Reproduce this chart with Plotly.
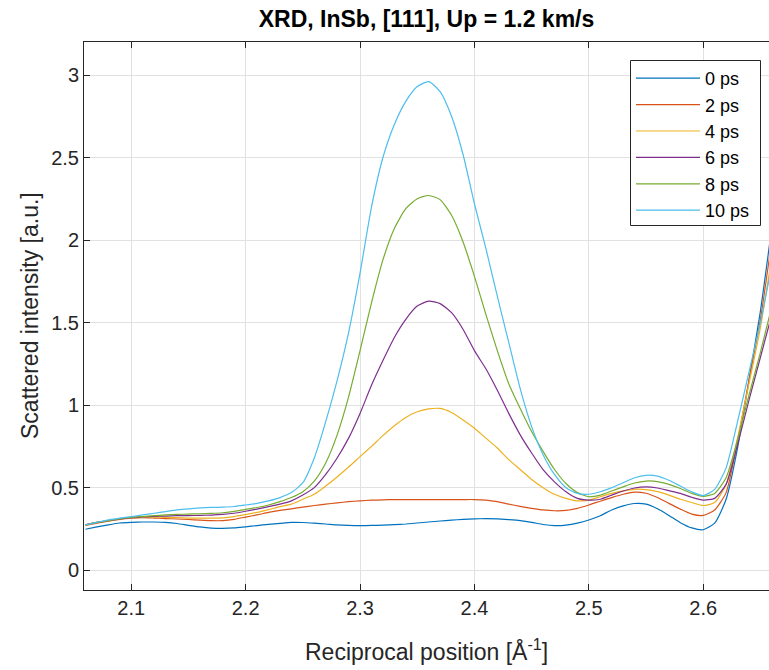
import plotly.graph_objects as go

q = [2.06, 2.07, 2.08, 2.09, 2.10, 2.11, 2.12, 2.13, 2.14, 2.15,
     2.16, 2.17, 2.18, 2.19, 2.20, 2.21, 2.22, 2.23, 2.24, 2.25,
     2.26, 2.27, 2.28, 2.29, 2.30, 2.31, 2.32, 2.33, 2.34, 2.35,
     2.36, 2.37, 2.38, 2.39, 2.40, 2.41, 2.42, 2.43, 2.44, 2.45,
     2.46, 2.47, 2.48, 2.49, 2.50, 2.51, 2.52, 2.53, 2.54, 2.55,
     2.56, 2.57, 2.58, 2.59, 2.60, 2.61, 2.62, 2.63, 2.64, 2.65, 2.66]

i0 = [0.248, 0.262, 0.275, 0.286, 0.290, 0.292, 0.292, 0.290, 0.283, 0.272,
      0.262, 0.255, 0.253, 0.256, 0.263, 0.270, 0.278, 0.284, 0.290, 0.289,
      0.285, 0.280, 0.274, 0.271, 0.270, 0.271, 0.273, 0.276, 0.280, 0.286,
      0.292, 0.298, 0.303, 0.308, 0.311, 0.312, 0.311, 0.306, 0.300, 0.290,
      0.277, 0.270, 0.273, 0.285, 0.304, 0.330, 0.365, 0.390, 0.404, 0.400,
      0.372, 0.332, 0.288, 0.256, 0.245, 0.285, 0.430, 0.740, 1.150, 1.570, 2.080]

i2 = [0.272, 0.285, 0.297, 0.308, 0.315, 0.318, 0.316, 0.313, 0.310, 0.307,
      0.303, 0.300, 0.300, 0.308, 0.322, 0.335, 0.350, 0.362, 0.372, 0.382,
      0.392, 0.400, 0.408, 0.415, 0.420, 0.424, 0.426, 0.428, 0.428, 0.428,
      0.428, 0.428, 0.428, 0.428, 0.428, 0.424, 0.415, 0.400, 0.387, 0.375,
      0.365, 0.360, 0.362, 0.375, 0.395, 0.418, 0.440, 0.460, 0.473, 0.466,
      0.440, 0.405, 0.370, 0.340, 0.332, 0.365, 0.470, 0.780, 1.150, 1.520, 2.000]

i4 = [0.275, 0.290, 0.300, 0.310, 0.318, 0.322, 0.322, 0.320, 0.318, 0.316,
      0.315, 0.315, 0.317, 0.325, 0.337, 0.350, 0.367, 0.385, 0.400, 0.430,
      0.460, 0.510, 0.565, 0.625, 0.688, 0.750, 0.815, 0.875, 0.925, 0.960,
      0.977, 0.980, 0.955, 0.910, 0.860, 0.800, 0.740, 0.670, 0.610, 0.550,
      0.500, 0.460, 0.435, 0.420, 0.425, 0.445, 0.465, 0.480, 0.490, 0.488,
      0.476, 0.455, 0.430, 0.410, 0.392, 0.410, 0.520, 0.800, 1.130, 1.470, 1.900]

i6 = [0.275, 0.290, 0.300, 0.310, 0.318, 0.323, 0.326, 0.328, 0.330, 0.331,
      0.332, 0.334, 0.338, 0.345, 0.357, 0.370, 0.385, 0.400, 0.420, 0.455,
      0.500, 0.580, 0.680, 0.800, 0.950, 1.120, 1.270, 1.410, 1.520, 1.600,
      1.630, 1.615, 1.560, 1.460, 1.330, 1.220, 1.090, 0.950, 0.820, 0.710,
      0.610, 0.535, 0.475, 0.435, 0.425, 0.430, 0.455, 0.480, 0.498, 0.505,
      0.498, 0.482, 0.465, 0.442, 0.425, 0.435, 0.520, 0.760, 1.030, 1.290, 1.550]

i8 = [0.275, 0.290, 0.300, 0.312, 0.320, 0.325, 0.330, 0.335, 0.338, 0.340,
      0.342, 0.344, 0.348, 0.356, 0.368, 0.380, 0.395, 0.415, 0.440, 0.475,
      0.540, 0.650, 0.820, 1.050, 1.330, 1.620, 1.880, 2.070, 2.190, 2.250,
      2.270, 2.245, 2.150, 1.990, 1.780, 1.550, 1.330, 1.130, 0.980, 0.840,
      0.720, 0.610, 0.525, 0.470, 0.445, 0.455, 0.480, 0.505, 0.528, 0.540,
      0.537, 0.520, 0.495, 0.465, 0.447, 0.465, 0.560, 0.790, 1.060, 1.320, 1.600]

i10 = [0.275, 0.290, 0.305, 0.315, 0.325, 0.335, 0.345, 0.355, 0.365, 0.372,
       0.377, 0.380, 0.382, 0.386, 0.395, 0.405, 0.420, 0.440, 0.470, 0.530,
       0.680, 0.900, 1.150, 1.440, 1.800, 2.200, 2.500, 2.700, 2.840, 2.930,
       2.960, 2.900, 2.750, 2.520, 2.220, 1.950, 1.660, 1.380, 1.100, 0.870,
       0.700, 0.580, 0.500, 0.465, 0.460, 0.475, 0.500, 0.530, 0.560, 0.575,
       0.570, 0.545, 0.510, 0.475, 0.452, 0.490, 0.620, 0.900, 1.200, 1.500, 1.850]

series_names = ["0 ps", "2 ps", "4 ps", "6 ps", "8 ps", "10 ps"]
series_values = [i0, i2, i4, i6, i8, i10]
colors = ["#0072BD", "#D95319", "#EDB120", "#7E2F8E", "#77AC30", "#4DBEEE"]

x_ticks = [2.1, 2.2, 2.3, 2.4, 2.5, 2.6]
y_ticks = [0, 0.5, 1, 1.5, 2, 2.5, 3]

FONT = "Liberation Sans, Arial, Helvetica, sans-serif"
AX = "#262626"

W, H = 769, 670
L, T, B = 84, 42, 80
PW, PH = W - L, H - T - B  # plot area size in px


def px_x(page_x):
    return (page_x - L) / PW


def px_y(page_y):
    return (H - B - page_y) / PH


fig = go.Figure()
for name, vals, col in zip(series_names, series_values, colors):
    fig.add_trace(go.Scatter(
        x=q, y=vals, mode="lines", name=name,
        line=dict(color=col, width=1.2, shape="spline", smoothing=0.6),
    ))

fig.update_layout(
    width=W, height=H,
    margin=dict(l=L, r=0, t=T, b=B),
    paper_bgcolor="white", plot_bgcolor="white",
    font=dict(family=FONT, color=AX, size=20),
    title=dict(text="<b>XRD, InSb, [111], Up = 1.2 km/s</b>",
               x=0.5, xref="paper", xanchor="center",
               y=1 - 19 / H, yref="container", yanchor="middle",
               font=dict(size=23, color="#000000", family=FONT)),
    showlegend=True,
    legend=dict(x=px_x(631), y=px_y(60), xanchor="left", yanchor="top",
                bgcolor="rgba(0,0,0,0)", borderwidth=0,
                font=dict(size=18, color="#000000", family=FONT),
                tracegroupgap=0, itemwidth=64),
    shapes=[dict(type="rect", xref="paper", yref="paper",
                 x0=px_x(630.5), x1=px_x(760.5), y0=px_y(225.5), y1=px_y(60.5),
                 fillcolor="white", line=dict(color=AX, width=1), layer="above")],
    annotations=[
        dict(text="Reciprocal position [Å<sup>-1</sup>]", xref="paper", yref="paper",
             x=0.5, y=px_y(650), xanchor="center", yanchor="middle",
             showarrow=False, font=dict(size=23, color=AX, family=FONT)),
        dict(text="Scattered intensity [a.u.]", xref="paper", yref="paper",
             x=px_x(30), y=0.5, xanchor="center", yanchor="middle", textangle=-90,
             showarrow=False, font=dict(size=23, color=AX, family=FONT)),
    ],
)

fig.update_xaxes(
    range=[2.0587, 2.6575], tickvals=x_ticks, ticktext=[f"{v:.1f}" for v in x_ticks],
    showgrid=True, gridcolor="#e1e1e1", gridwidth=1,
    showline=True, linecolor=AX, linewidth=1, mirror="ticks",
    ticks="inside", ticklen=6, tickcolor=AX, zeroline=False,
    tickfont=dict(size=20, color=AX), automargin=False,
)
fig.update_yaxes(
    range=[-0.12, 3.2], tickvals=y_ticks, ticktext=["0", "0.5", "1", "1.5", "2", "2.5", "3"],
    showgrid=True, gridcolor="#e1e1e1", gridwidth=1,
    showline=True, linecolor=AX, linewidth=1, mirror=False,
    ticks="inside", ticklen=6, tickcolor=AX, zeroline=False,
    tickfont=dict(size=20, color=AX), automargin=False,
)

fig.write_html(
    "out.html",
    config={"displayModeBar": False},
    post_script="document.body.style.margin='0';document.body.style.overflow='hidden';",
)
